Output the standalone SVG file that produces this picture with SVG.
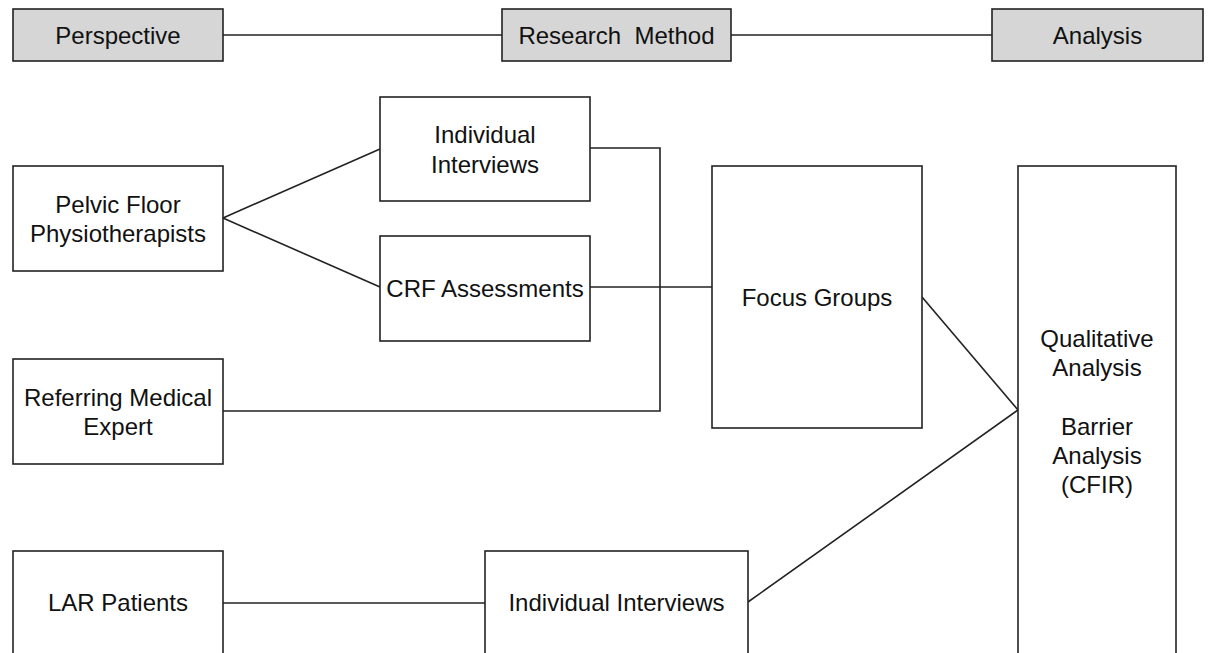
<svg xmlns="http://www.w3.org/2000/svg" width="1208" height="653" viewBox="0 0 1208 653">
<style>
rect{fill:#fff;stroke:#222;stroke-width:1.6}
rect.hdr{fill:#d6d6d6}
text{font-family:"Liberation Sans",Arial,sans-serif;font-size:24px;fill:#111;text-anchor:middle}
.c line,.c polyline{stroke:#222;stroke-width:1.6;fill:none}
</style>
<rect width="1208" height="653" style="fill:#fff;stroke:none"/>
<g class="c" id="connectors">
<line x1="223" y1="35" x2="502" y2="35"/>
<line x1="731" y1="35" x2="992" y2="35"/>
<line x1="223" y1="218" x2="380" y2="149"/>
<line x1="223" y1="218" x2="380" y2="287"/>
<polyline points="590,148 660,148 660,411 223,411"/>
<line x1="590" y1="287" x2="712" y2="287"/>
<line x1="922" y1="297" x2="1018" y2="410"/>
<line x1="748" y1="602" x2="1018" y2="410"/>
<line x1="223" y1="603" x2="485" y2="603"/>
</g>
<g id="perspective"><rect class="hdr" x="13" y="9" width="210" height="52"/><text x="118" y="44">Perspective</text></g>
<g id="research-method"><rect class="hdr" x="502" y="9" width="229" height="52"/><text x="616.5" y="44" xml:space="preserve">Research  Method</text></g>
<g id="analysis"><rect class="hdr" x="992" y="9" width="211" height="52"/><text x="1097.5" y="44">Analysis</text></g>
<g id="individual-interviews-1"><rect x="380" y="97" width="210" height="104"/><text x="485" y="143">Individual</text><text x="485" y="173">Interviews</text></g>
<g id="pelvic-floor"><rect x="13" y="166" width="210" height="105"/><text x="118" y="213">Pelvic Floor</text><text x="118" y="242">Physiotherapists</text></g>
<g id="crf"><rect x="380" y="236" width="210" height="105"/><text x="485" y="297">CRF Assessments</text></g>
<g id="referring"><rect x="13" y="359" width="210" height="105"/><text x="118" y="406">Referring Medical</text><text x="118" y="435">Expert</text></g>
<g id="focus-groups"><rect x="712" y="166" width="210" height="262"/><text x="817" y="306">Focus Groups</text></g>
<g id="qualitative"><rect x="1018" y="166" width="158" height="540"/><text x="1097" y="347">Qualitative</text><text x="1097" y="376">Analysis</text><text x="1097" y="435">Barrier</text><text x="1097" y="464">Analysis</text><text x="1097" y="493">(CFIR)</text></g>
<g id="lar-patients"><rect x="13" y="551" width="210" height="150"/><text x="118" y="611">LAR Patients</text></g>
<g id="individual-interviews-2"><rect x="485" y="551" width="263" height="150"/><text x="616.5" y="611">Individual Interviews</text></g>
</svg>
